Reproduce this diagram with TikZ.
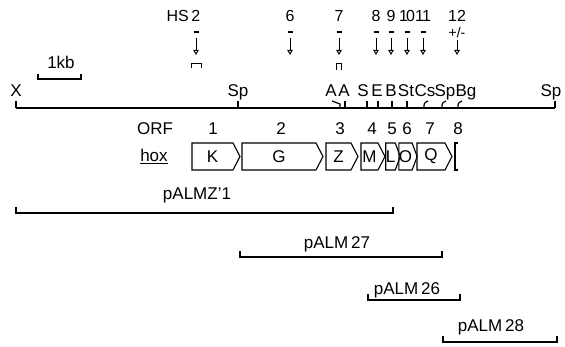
\documentclass[tikz,border=0pt]{standalone}
\usepackage{fontspec}
\setmainfont{Liberation Sans}
\usepackage{tikz}
\usetikzlibrary{positioning,arrows.meta,shapes.symbols}

\begin{document}
\begin{tikzpicture}[
  x=1pt,y=-1pt,
  lbl/.style={font=\fontsize{17}{17}\selectfont,inner sep=0pt,anchor=base},
  num/.style={font=\fontsize{16}{16}\selectfont,inner sep=0pt,anchor=base},
  ln/.style={line width=1.2pt},
  minus/.style={line width=1.1pt},
  hsarr/.style={-{Triangle[open,length=5pt,width=5.5pt]},line width=1pt},
  gene/.style={draw,line width=1.1pt,shape=signal,signal to=east,signal pointer angle=125,
    minimum height=27pt,inner sep=0pt,font=\fontsize{17}{17}\selectfont},
  smallgene/.style={gene,signal pointer angle=139}
]
\useasboundingbox (0,0) rectangle (565,347);

% hypersensitive sites
\node[num,anchor=base east] (hs2) at (200.5,22) {HS\,2};
\node[num] (n6) at (290,22) {6};
\node[num] (n7) at (339,22) {7};
\node[num] (n8) at (376,22) {8};
\node[num] (n9) at (391,22) {9};
\node[num] (n10) at (407,22) {1\kern-2pt0};
\node[num] (n11) at (423,22) {1\kern-2pt1};
\node[num] (n12) at (457,22) {12};
\coordinate (d2) at (196,32);
\coordinate (d6) at (290,32);
\coordinate (d7) at (339,32);
\coordinate (d8) at (376,32);
\coordinate (d9) at (391,32);
\coordinate (d10) at (407,32);
\coordinate (d11) at (423,32);
\node[num,font=\fontsize{14}{14}\selectfont,anchor=center] (d12) at (457,33) {+/-};
\draw[minus] (d2) ++(-2.5,0) -- ++(5,0);
\draw[minus] (d6) ++(-2.5,0) -- ++(5,0);
\draw[minus] (d7) ++(-2.5,0) -- ++(5,0);
\draw[minus] (d8) ++(-2.5,0) -- ++(5,0);
\draw[minus] (d9) ++(-2.5,0) -- ++(5,0);
\draw[minus] (d10) ++(-2.5,0) -- ++(5,0);
\draw[minus] (d11) ++(-2.5,0) -- ++(5,0);
\draw[hsarr] ([yshift=-6pt]d2) -- ++(0,17);
\draw[hsarr] ([yshift=-6pt]d6) -- ++(0,17);
\draw[hsarr] ([yshift=-6pt]d7) -- ++(0,17);
\draw[hsarr] ([yshift=-6pt]d8) -- ++(0,17);
\draw[hsarr] ([yshift=-6pt]d9) -- ++(0,17);
\draw[hsarr] ([yshift=-6pt]d10) -- ++(0,17);
\draw[hsarr] ([yshift=-6pt]d11) -- ++(0,17);
\draw[hsarr] ([yshift=-2pt]d12.south) -- (457,55);
\draw[line width=1pt] (191,68) -- (191,64) -- (201,64) -- (201,68);
\draw[line width=1pt] (336,70) -- (336,64) -- (341,64) -- (341,70);

% scale bar
\node[lbl] (kb) at (61,69) {1kb};
\draw[ln] (38,74) -- (38,79) -- (81,79) -- (81,74);

% restriction map
\node[lbl] (sX) at (16,97) {X};
\node[lbl] (sSp1) at (238,97) {Sp};
\node[lbl] (sA1) at (331,97) {A};
\node[lbl] (sA2) at (344,97) {A};
\node[lbl] (sS) at (363,97) {S};
\node[lbl] (sE) at (377,97) {E};
\node[lbl] (sB) at (391,97) {B};
\node[lbl] (sSt) at (406,97) {St};
\node[lbl] (sCs) at (425,97) {Cs};
\node[lbl] (sSp2) at (445,97) {Sp};
\node[lbl] (sBg) at (466,97) {Bg};
\node[lbl] (sSp3) at (551,97) {Sp};
\draw[ln] (16,108) -- (555,108);
\draw[ln] (16,101) -- (16,108);
\draw[ln] (238,101) -- (238,108);
\draw[ln] (332,101) -- (340,104) -- (340,108);
\draw[ln] (345,101) -- (345,108);
\draw[ln] (367,101) -- (367,108);
\draw[ln] (378,101) -- (378,108);
\draw[ln] (392,101) -- (392,108);
\draw[ln] (407,101) -- (407,108);
\draw[ln] (424,108) .. controls (424,103) .. (428,101);
\draw[ln] (442,108) .. controls (442,103) .. (446,101);
\draw[ln] (458,108) .. controls (458,103) .. (462,101);
\draw[ln] (555,101) -- (555,108);

% open reading frames
\node[lbl] (orf) at (155,135) {ORF};
\node[lbl] (o1) at (213,135) {1};
\node[lbl] (o2) at (281,135) {2};
\node[lbl] (o3) at (340,135) {3};
\node[lbl] (o4) at (372,135) {4};
\node[lbl] (o5) at (392,135) {5};
\node[lbl] (o6) at (407,135) {6};
\node[lbl] (o7) at (430,135) {7};
\node[lbl] (o8) at (458,135) {8};
\node[lbl] (hox) at (154,162) {\underline{hox}};
\node[gene,minimum width=48pt] (K) at (212.5,156.5) {K};
\node[gene,minimum width=81pt] (G) at (279,156.5) {G};
\node[gene,minimum width=32pt] (Z) at (338.5,156.5) {Z};
\node[gene,minimum width=24pt] (M) at (369.5,156.5) {M};
\node[smallgene,minimum width=14pt] (L) at (390.5,156.5) {L};
\node[smallgene,minimum width=14pt] (O) at (405.5,156.5) {O};
\node[gene,minimum width=35pt] (Q) at (431,156.5) {Q};
\draw[line width=1.1pt] (458,143) -- (455,143) -- (455,170) -- (458,170);

% clones
\node[lbl] (zp1) at (197,200) {pALMZ'1};
\draw[ln] (16,207) -- (16,213) -- (393,213) -- (393,207);
\node[lbl] (p27) at (337,249) {pALM\,27};
\draw[ln] (240,251) -- (240,257) -- (442,257) -- (442,251);
\node[lbl] (p26) at (407,295) {pALM\,26};
\draw[ln] (368,294) -- (368,300) -- (460,300) -- (460,294);
\node[lbl] (p28) at (491,332) {pALM\,28};
\draw[ln] (443,336) -- (443,342) -- (557,342) -- (557,336);
\end{tikzpicture}
\end{document}
